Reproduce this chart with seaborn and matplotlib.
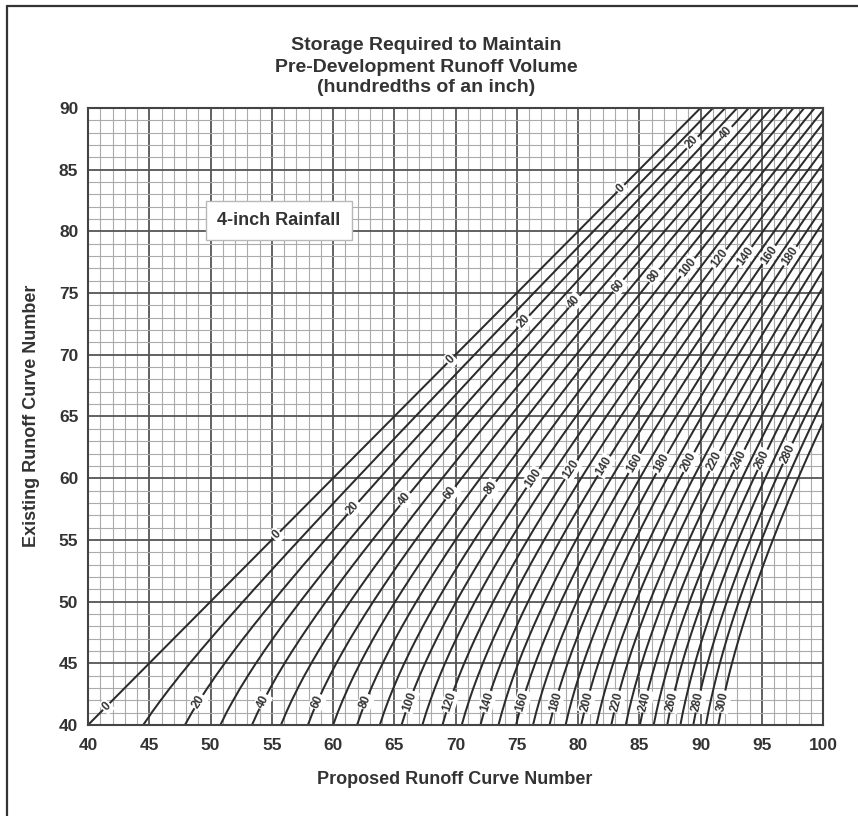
import numpy as np
import pandas as pd
import matplotlib
matplotlib.use("Agg")
import matplotlib.pyplot as plt
from matplotlib.ticker import MultipleLocator
from matplotlib.lines import Line2D
import seaborn as sns
import contourpy

# ---------------- data ----------------
# Runoff depth (hundredths of an inch) for a 4-inch rainfall, per curve number
curve_numbers = list(range(40, 101))
runoff_4in = [6.25, 8.11, 10.19, 12.46, 14.92, 17.56, 20.38, 23.38, 26.54, 29.86,
              33.33, 36.97, 40.75, 44.68, 48.76, 52.98, 57.34, 61.84, 66.49, 71.27,
              76.19, 81.25, 86.44, 91.77, 97.24, 102.85, 108.59, 114.48, 120.50, 126.66,
              132.97, 139.41, 146.01, 152.75, 159.63, 166.67, 173.85, 181.20, 188.69, 196.35,
              204.17, 212.15, 220.30, 228.62, 237.11, 245.78, 254.63, 263.67, 272.89, 282.31,
              291.92, 301.73, 311.76, 321.99, 332.44, 343.11, 354.01, 365.14, 376.51, 388.13,
              400.00]
storage_levels = list(range(0, 301, 10))          # contour values (hundredths of an inch)
x_ticks = [40, 45, 50, 55, 60, 65, 70, 75, 80, 85, 90, 95, 100]
y_ticks = [40, 45, 50, 55, 60, 65, 70, 75, 80, 85, 90]

# labelled contours: (levels, existing-CN where label sits)
band_a_levels = list(range(0, 301, 20))
band_a_y = [41.5] + [41.9] * 15
band_b_levels = list(range(0, 281, 20))
band_b_y = [55.4, 57.6, 58.3, 58.8, 59.2, 60.0, 60.7, 61.0, 61.2, 61.2, 61.3, 61.4, 61.5, 61.5, 62.0]
band_c_levels = list(range(0, 181, 20))
band_c_y = [69.6, 72.7, 74.3, 75.6, 76.4, 77.1, 77.8, 78.0, 78.1, 78.0]
band_d_levels = [0, 20, 40]
band_d_y = [83.5, 87.2, 88.0]

title_lines = ["Storage Required to Maintain", "Pre-Development Runoff Volume",
               "(hundredths of an inch)"]

# ---------------- style ----------------
sns.set_theme(style="white")
plt.rcParams["font.family"] = ["Liberation Sans", "DejaVu Sans"]
plt.rcParams["font.weight"] = "bold"

W, H = 858, 816
fig = plt.figure(figsize=(W / 100, H / 100), dpi=100)
fig.patch.set_facecolor("white")
ax = fig.add_axes([88 / W, 1 - 725 / H, (823 - 88) / W, (725 - 108) / H])
ax.set_xlim(40, 100)
ax.set_ylim(40, 90)

# grid
ax.set_xticks(x_ticks)
ax.set_yticks(y_ticks)
ax.xaxis.set_minor_locator(MultipleLocator(1))
ax.yaxis.set_minor_locator(MultipleLocator(1))
ax.grid(which="minor", color="#ababab", lw=0.8)
ax.grid(which="major", color="#555555", lw=1.3)
ax.set_axisbelow(True)
ax.tick_params(which="both", length=0)
ax.tick_params(axis="x", labelsize=12.5, labelcolor="#333333", pad=9)
ax.tick_params(axis="y", labelsize=12.5, labelcolor="#333333", pad=7)
for s in ax.spines.values():
    s.set_color("#444444")
    s.set_linewidth(1.5)

# ---------------- contours ----------------
cn = np.array(curve_numbers, float)
R = np.array(runoff_4in, float)
ny = int(np.sum(cn <= 90))
ycn = cn[:ny]
XX, YY = np.meshgrid(cn, ycn)
Z = R[None, :] - R[:ny, None]
gen = contourpy.contour_generator(XX, YY, Z)

rows = []
seg = 0
for lev in storage_levels:
    for line in gen.lines(lev + 1e-6):
        for px, py in line:
            rows.append((px, py, lev, seg))
        seg += 1
df = pd.DataFrame(rows, columns=["proposed", "existing", "storage", "seg"])
sns.lineplot(data=df, x="proposed", y="existing", units="seg", estimator=None,
             sort=False, color="#2b2b2b", lw=1.45, ax=ax, legend=False)
ax.set_xlabel("")
ax.set_ylabel("")
ax.set_xlim(40, 100)
ax.set_ylim(40, 90)


def x_on_level(level, y):
    qy = np.interp(y, cn, R)
    return np.interp(qy + level, R, cn)


def put_label(level, y):
    x = x_on_level(level, y)
    p1 = ax.transData.transform((x_on_level(level, y - 0.4), y - 0.4))
    p2 = ax.transData.transform((x_on_level(level, y + 0.4), y + 0.4))
    ang = np.degrees(np.arctan2(p2[1] - p1[1], p2[0] - p1[0]))
    ax.text(x, y, str(level), rotation=ang, rotation_mode="anchor",
            ha="center", va="center", fontsize=8.5, color="#333333",
            bbox=dict(boxstyle="square,pad=0.12", fc="white", ec="none"), zorder=6)


for levs, ys in [(band_a_levels, band_a_y), (band_b_levels, band_b_y),
                 (band_c_levels, band_c_y), (band_d_levels, band_d_y)]:
    for lev, yy in zip(levs, ys):
        put_label(lev, yy)

ax.text(55.6, 80.9, "4-inch Rainfall", ha="center", va="center", fontsize=13,
        color="#333333", zorder=7,
        bbox=dict(boxstyle="square,pad=0.62", fc="white", ec="#b8b8b8", lw=1))

# ---------------- text ----------------
for txt, ypx in zip(title_lines, [46, 67, 88]):
    fig.text(426 / W, 1 - ypx / H, txt, ha="center", va="center", fontsize=14,
             color="#333333")
fig.text(455 / W, 1 - 780 / H, "Proposed Runoff Curve Number", ha="center",
         va="center", fontsize=13, color="#333333")
fig.text(32 / W, 1 - 416 / H, "Existing Runoff Curve Number", ha="center",
         va="center", rotation=90, fontsize=13, color="#333333")

# outer frame (left and top edges visible)
fig.add_artist(Line2D([7 / W, 7 / W], [0, 1 - 6 / H], color="#333333", lw=1.6))
fig.add_artist(Line2D([7 / W, 1], [1 - 6 / H, 1 - 6 / H], color="#333333", lw=1.6))

fig.savefig("out.png", dpi=100, facecolor="white")
